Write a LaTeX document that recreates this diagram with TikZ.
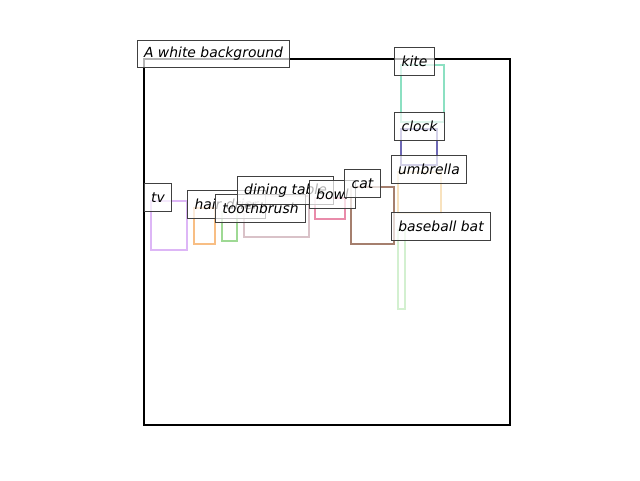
\documentclass[tikz,border=0pt]{standalone}
\usepackage{fontspec}
\setmainfont{DejaVu Sans}
\usetikzlibrary{positioning}
\definecolor{tvC}{HTML}{DDB6F6}
\definecolor{hairC}{HTML}{F8BE84}
\definecolor{brushC}{HTML}{9ED994}
\definecolor{tableC}{HTML}{D9C2C8}
\definecolor{bowlC}{HTML}{E98BAA}
\definecolor{catC}{HTML}{A57F6E}
\definecolor{kiteC}{HTML}{8CE0C2}
\definecolor{clockC}{HTML}{6D68B5}
\definecolor{umbrC}{HTML}{F8E2BE}
\definecolor{batC}{HTML}{D3F0D0}
\definecolor{tagline}{HTML}{404040}
\tikzset{
  frame/.style={draw=black, line width=2pt},
  bbox/.style={line width=2pt},
  tag/.style={draw=tagline, line width=1pt, fill=white, fill opacity=0.7, text opacity=1,
              font=\fontsize{13.9}{16}\selectfont\itshape, inner sep=0pt, anchor=north west},
}

\begin{document}
\begin{tikzpicture}[x=1pt, y=-1pt]
  \useasboundingbox (0,0) rectangle (640,480);

  % ------------------------------------------------ the image frame
  \draw[frame] (144,59) rectangle (510,425);

  % ------------------------------------------------ one box per object
  \foreach \c/\a/\b/\p/\q in {tvC/151/201/187/250, hairC/194/208/215/244,
      brushC/222/212/237/241, tableC/244/196/309/237, bowlC/315/198/345/219,
      catC/351/187/394/244, kiteC/401/65/444/122, clockC/401/129/437/165,
      umbrC/398/172/441/213, batC/398/230/405/309} {
    \draw[bbox, draw=\c] (\a,\b) rectangle (\p,\q);
  }

  % ------------------------------------------------ labels
  \node[tag, minimum width=152pt, minimum height=27pt] (bg) at (137,40) {A white background};
  \node[tag, minimum width=27pt, minimum height=28pt] (tv) at (144,183) {tv};
  \node[tag, minimum width=78pt, minimum height=28pt] (hair) at (187,190) {hair drier};
  \node[tag, minimum width=90pt, minimum height=28pt] (brush) at (215,194) {toothbrush};
  \node[tag, minimum width=96pt, minimum height=28pt] (table) at (237,176) {dining table};
  \node[tag, minimum width=46pt, minimum height=28pt] (bowl) at (309,180) {bowl};
  \node[tag, minimum width=36pt, minimum height=28pt] (cat) at (344,169) {cat};
  \node[tag, minimum width=40pt, minimum height=28pt] (kite) at (394,47) {kite};
  \node[tag, minimum width=50pt, minimum height=28pt] (clock) at (394,112) {clock};
  \node[tag, minimum width=75pt, minimum height=28pt] (umbr) at (391,155) {umbrella};
  \node[tag, minimum width=99pt, minimum height=28pt] (bat) at (391,212) {baseball bat};
\end{tikzpicture}
\end{document}
